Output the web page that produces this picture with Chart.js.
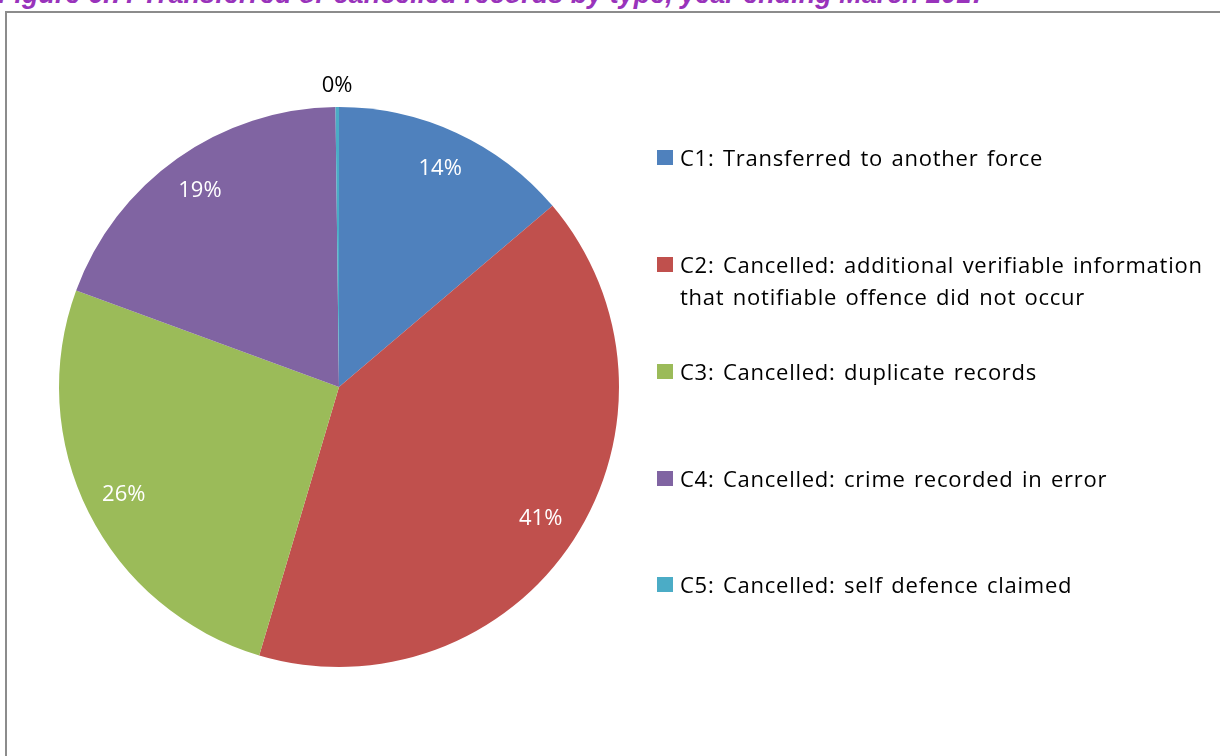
<!DOCTYPE html>
<html>
<head>
<meta charset="utf-8">
<script src="https://cdn.jsdelivr.net/npm/chart.js@4"></script>
<style>
    html, body { margin: 0; padding: 0; background: #fff; overflow: hidden; }
    body { width: 1220px; height: 756px; position: relative; font-family: "Open Sans", Lato, sans-serif; }
    .title {
        position: absolute; left: -2px; top: -19px; white-space: nowrap;
        font: italic bold 27px/27px "Liberation Sans", Arial, sans-serif; color: #9933bb;
    }
    .frame {
        position: absolute; left: 5px; top: 11px; width: 1300px; height: 900px;
        border: 2px solid #8c8c8c; box-sizing: border-box;
    }
    #chartWrap { position: absolute; left: 19px; top: 67px; width: 640px; height: 640px; }
    .legend { position: absolute; left: 657px; top: 0; }
    .legend-item {
        position: absolute; left: 0; width: 560px; font-size: 22px; line-height: 32px; color: #000;
        letter-spacing: 0.75px; word-spacing: 2px;
    }
    .legend-item .box { position: absolute; left: 0; top: 9px; width: 16px; height: 15px; }
    .legend-item .txt { position: absolute; left: 23px; top: 0; white-space: nowrap; }
</style>
</head>
<body>
<div class="title">Figure 6.7: Transferred or cancelled records by type, year ending March 2017</div>
<div class="frame"></div>
<div id="chartWrap"><canvas id="chartPie"></canvas></div>
<div class="legend" id="legend"></div>
<script>
    const categories = [
        'C1: Transferred to another force',
        'C2: Cancelled: additional verifiable information|that notifiable offence did not occur',
        'C3: Cancelled: duplicate records',
        'C4: Cancelled: crime recorded in error',
        'C5: Cancelled: self defence claimed'
    ];
    const shares = [13.8, 40.8, 26.0, 19.2, 0.2];
    const colors = ['#4f81bd', '#c0504d', '#9bbb59', '#8064a2', '#4bacc6'];
    const legendTops = [141, 248, 355, 462, 568];

    // html legend, so the two line item wraps like the original
    const legendEl = document.getElementById('legend');
    categories.forEach((label, i) => {
        const item = document.createElement('div');
        item.className = 'legend-item';
        item.style.top = legendTops[i] + 'px';
        const lines = label.split('|');
        item.innerHTML = `<span class="box" style="background:${colors[i]}"></span>` +
            lines.map((l, k) => `<span class="txt" style="top:${k * 32}px">${l}</span>`).join('');
        legendEl.appendChild(item);
    });

    const pctLabels = {
        id: 'pctLabels',
        afterDatasetsDraw(chart) {
            const ctx = chart.ctx;
            const meta = chart.getDatasetMeta(0);
            const total = shares.reduce((a, b) => a + b, 0);
            ctx.save();
            ctx.font = '22px "Open Sans", Lato, sans-serif';
            ctx.textAlign = 'center';
            ctx.textBaseline = 'middle';
            meta.data.forEach((arc, i) => {
                const pct = Math.round(shares[i] / total * 100);
                const mid = (arc.startAngle + arc.endAngle) / 2;
                const small = pct < 1;
                const r = small ? arc.outerRadius + 21 : arc.outerRadius * 0.86;
                const x = arc.x + Math.cos(mid) * r;
                const y = arc.y + Math.sin(mid) * r;
                ctx.fillStyle = small ? '#000' : '#fff';
                ctx.fillText(pct + '%', x, y);
            });
            ctx.restore();
        }
    };

    const canvas = document.getElementById('chartPie').getContext('2d');
    new Chart(canvas, {
        type: 'pie',
        data: {
            labels: categories.map(c => c.replace('|', ' ')),
            datasets: [{
                data: shares,
                backgroundColor: colors,
                borderWidth: 0
            }]
        },
        options: {
            responsive: true,
            maintainAspectRatio: false,
            animation: false,
            layout: {padding: 40},
            plugins: {
                legend: {display: false},
                tooltip: {enabled: false}
            }
        },
        plugins: [pctLabels]
    });
</script>
</body>
</html>
